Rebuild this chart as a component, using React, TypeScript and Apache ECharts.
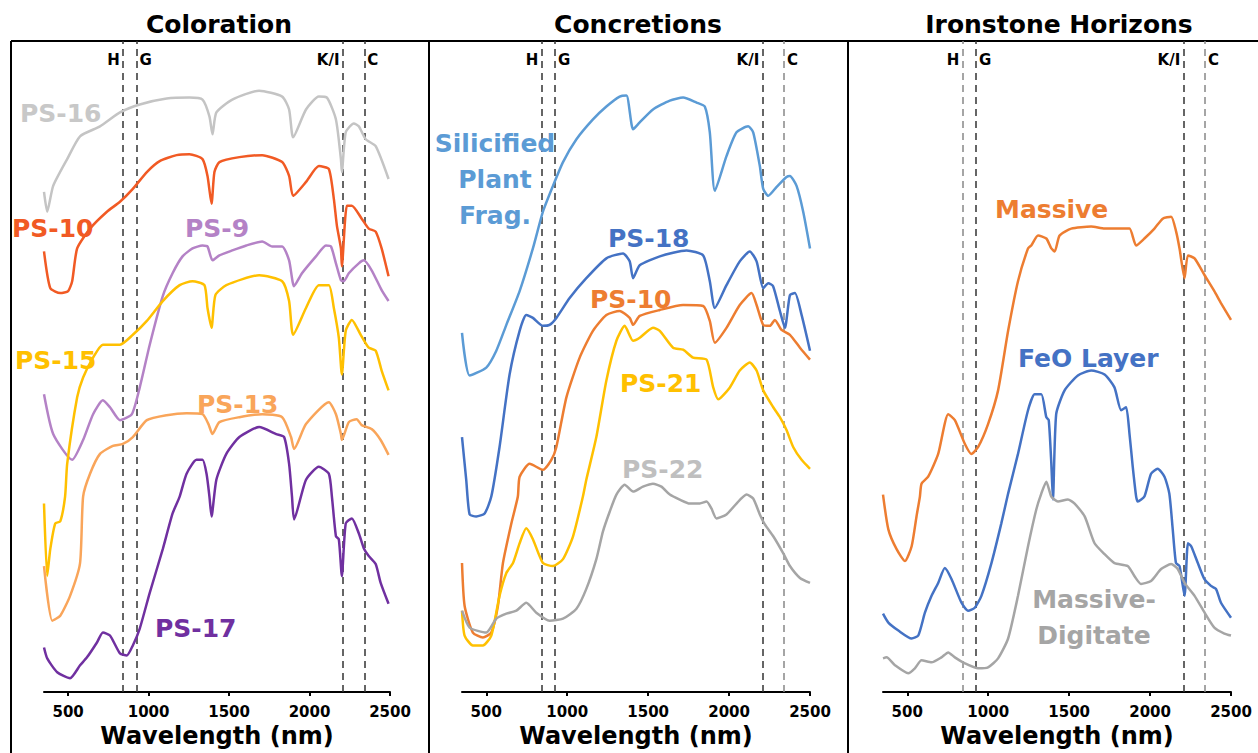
import React, { useEffect, useRef } from "react";
import * as echarts from "echarts";

// ---------- axis / feature data ----------
const tickValues = [500, 1000, 1500, 2000, 2500];
const featureNm = [840, 925, 2205, 2340];
const featureLabels = ["H", "G", "K/I", "C"];
const panelTitles = ["Coloration", "Concretions", "Ironstone Horizons"];

// ---------- Coloration ----------
const ps16Wl = [350,370,407,494,574,698,822,945,1112,1254,1335,1378,1397,1421,1520,1687,1830,1873,1898,1978,2058,2108,2164,2195,2201,2225,2275,2306,2349,2411,2491];
const ps16Val = [50.4,48.4,51.0,53.7,56.0,57.0,58.4,59.2,59.8,59.9,59.7,58.0,56.2,58.4,59.7,60.6,60.0,58.7,55.9,58.7,60.0,59.9,57.7,53.7,52.4,56.4,57.3,57.0,55.7,55.0,51.7];

const ps10Wl = [350,389,451,500,525,556,636,741,822,902,989,1069,1174,1254,1335,1366,1391,1409,1440,1564,1706,1830,1873,1898,1978,2058,2120,2151,2170,2195,2201,2232,2263,2324,2368,2411,2448,2491];
const ps10Val = [44.4,40.7,40.2,40.4,41.4,44.7,46.7,48.4,49.4,50.7,52.4,53.5,54.1,54.2,53.7,52.0,49.2,52.4,53.4,53.9,54.1,53.4,52.0,50.0,51.4,53.0,52.7,49.7,47.0,44.7,42.9,49.0,49.0,47.7,46.7,46.4,44.7,41.9];

const ps9Wl = [350,407,525,593,655,716,760,822,896,945,1007,1088,1149,1211,1273,1335,1366,1397,1440,1520,1607,1706,1768,1830,1873,1904,1953,2040,2102,2133,2164,2195,2213,2244,2306,2337,2386,2448,2491];
const ps9Val = [30.0,26.0,23.4,25.4,28.0,29.4,28.7,27.4,28.0,30.7,35.0,39.9,42.2,43.9,44.7,45.0,44.9,43.5,44.0,44.5,45.0,45.4,44.9,44.9,43.5,40.9,42.2,43.9,45.0,44.9,43.2,41.5,41.4,42.2,43.2,43.5,42.5,40.5,39.4];

const ps15Wl = [350,370,389,420,451,481,494,556,593,655,716,822,902,989,1088,1193,1273,1347,1366,1391,1415,1483,1687,1830,1873,1898,1978,2058,2120,2151,2182,2201,2225,2263,2318,2368,2411,2448,2491];
const ps15Val = [19.0,11.7,14.4,17.0,17.2,19.7,23.0,29.7,31.7,33.7,35.0,35.0,36.0,37.4,39.4,41.0,41.4,41.0,38.7,36.7,40.0,41.0,42.0,41.4,39.4,36.0,38.7,41.0,41.0,38.7,35.7,32.0,36.4,37.5,36.0,34.7,34.4,32.4,30.4];

const ps13Wl = [350,401,451,512,574,593,636,698,778,840,902,989,1112,1236,1335,1372,1397,1440,1564,1706,1830,1885,1904,1978,2120,2164,2195,2201,2244,2293,2324,2386,2442,2491];
const ps13Val = [12.7,7.2,7.7,9.7,13.0,19.7,22.0,24.0,24.8,25.0,25.7,27.4,27.9,28.1,28.0,27.0,26.0,27.2,27.7,28.0,27.7,25.7,24.5,27.0,29.2,28.0,26.0,25.4,27.2,27.5,26.9,26.5,25.4,23.9];

const ps17Wl = [350,370,432,512,574,617,679,716,760,822,865,902,945,1007,1088,1149,1193,1236,1298,1335,1360,1378,1391,1421,1483,1564,1687,1793,1842,1873,1891,1904,1978,2058,2120,2139,2164,2182,2201,2225,2263,2306,2337,2368,2411,2442,2491];
const ps17Val = [4.5,3.4,2.0,1.4,2.7,3.5,5.0,6.0,5.7,3.9,3.7,4.7,6.4,10.0,14.4,18.0,19.7,22.0,23.4,23.4,22.0,19.7,17.7,21.4,24.0,25.7,26.7,26.0,25.7,23.0,19.7,17.4,21.4,22.7,22.0,19.7,15.7,15.4,11.7,17.0,17.5,16.0,14.5,13.7,12.9,11.0,8.9];

// ---------- Concretions ----------
const silWl = [350,397,500,562,624,706,788,850,912,974,1057,1159,1242,1324,1366,1407,1448,1530,1634,1716,1799,1850,1881,1912,1984,2046,2118,2149,2190,2211,2242,2294,2355,2376,2417,2458,2500];
const silVal = [36.2,31.9,32.7,34.4,37.0,40.4,44.7,48.4,51.0,53.4,55.7,57.7,59.0,60.0,60.1,56.7,57.4,58.7,59.6,59.9,59.4,59.0,56.4,50.5,54.0,56.4,57.0,56.4,53.0,50.7,50.0,50.9,51.9,52.0,51.0,48.4,44.7];

const ps18Wl = [350,376,397,438,490,531,582,644,706,747,788,850,891,933,1015,1118,1242,1345,1386,1407,1448,1572,1737,1840,1881,1912,1984,2066,2128,2170,2211,2242,2272,2314,2345,2376,2407,2448,2500];
const ps18Val = [25.7,21.4,17.9,17.7,18.0,19.7,24.7,32.0,36.4,38.0,37.7,36.9,37.0,37.7,39.7,41.7,43.7,44.2,43.4,41.7,43.0,43.9,44.5,44.0,41.4,38.7,41.0,43.4,44.4,43.4,40.7,41.2,40.9,38.4,36.7,40.0,40.2,38.0,34.4];

const ps10cWl = [350,366,417,479,531,572,603,655,695,706,768,850,902,933,995,1077,1159,1242,1324,1386,1407,1448,1572,1716,1840,1881,1912,1984,2066,2139,2170,2211,2252,2283,2324,2376,2438,2500];
const ps10cVal = [13.0,8.7,6.0,5.5,6.0,8.7,13.0,17.0,19.7,21.7,23.0,22.4,23.4,24.7,29.7,33.7,36.4,38.0,38.4,37.7,37.0,37.9,38.5,39.0,38.9,37.4,35.2,36.7,39.0,40.2,39.0,37.0,36.9,37.5,36.5,36.0,34.7,33.5];

const ps21Wl = [350,366,417,479,531,582,624,665,706,747,788,850,912,974,1036,1097,1118,1180,1242,1304,1355,1407,1448,1530,1572,1654,1716,1778,1861,1902,1933,2005,2066,2128,2170,2211,2273,2314,2355,2396,2448,2500];
const ps21Val = [8.2,5.7,4.7,4.7,5.7,9.7,12.0,13.0,15.0,16.5,15.4,13.0,12.7,13.4,15.7,19.7,21.4,25.7,31.4,35.4,36.9,35.4,35.7,36.7,36.4,34.7,34.5,33.7,33.5,30.7,29.5,30.7,32.4,33.2,32.4,30.4,28.7,27.7,26.4,24.7,23.4,22.5];

const ps22Wl = [350,397,500,562,624,686,747,809,891,974,1057,1118,1180,1221,1263,1304,1355,1407,1468,1530,1582,1634,1695,1757,1819,1861,1891,1922,1984,2046,2108,2149,2190,2221,2273,2334,2376,2438,2500];
const ps22Val = [8.2,6.5,6.0,7.4,7.9,8.2,9.0,8.0,7.2,7.4,8.4,10.4,13.4,16.2,18.2,19.9,20.9,20.2,20.7,21.0,20.7,19.9,19.4,19.0,19.0,19.2,18.5,17.5,17.9,19.0,19.9,19.5,17.9,16.9,15.7,14.0,12.7,11.5,11.0];

// ---------- Ironstone Horizons ----------
const massWl = [350,383,434,486,527,557,578,588,629,691,753,794,856,896,938,999,1061,1123,1184,1246,1266,1308,1359,1390,1411,1441,1513,1636,1719,1821,1873,1914,1965,2027,2078,2130,2161,2182,2213,2234,2275,2337,2397,2438,2500];
const massVal = [19.9,16.4,14.4,13.2,14.7,17.7,19.7,21.0,21.7,24.0,28.0,27.4,25.0,24.0,24.7,27.0,30.4,36.4,41.4,44.7,45.0,46.0,45.7,44.7,44.4,46.0,46.7,46.9,46.7,46.7,46.7,45.0,45.7,46.7,47.7,47.9,46.4,44.7,41.7,44.0,43.7,42.0,40.4,39.2,37.5];

const feoWl = [350,383,445,527,568,609,650,691,732,773,835,876,917,958,1020,1081,1123,1184,1246,1287,1328,1359,1374,1390,1400,1420,1472,1554,1636,1719,1780,1821,1852,1873,1893,1914,1924,1965,2006,2047,2089,2119,2140,2160,2182,2213,2234,2254,2295,2335,2376,2407,2438,2500];
const feoVal = [7.9,7.0,6.2,5.4,5.7,8.0,9.7,11.0,12.5,11.4,9.0,8.2,8.5,9.7,13.0,17.0,20.0,24.0,28.4,30.0,30.0,27.7,27.4,23.0,19.4,28.0,30.4,31.9,32.4,32.0,30.7,28.4,28.7,26.0,22.7,19.7,19.2,19.7,22.0,22.5,21.7,20.0,16.4,13.0,12.7,9.7,15.0,14.7,13.0,11.4,10.7,10.4,9.0,7.5];

const mdWl = [350,372,424,506,547,588,650,711,753,794,856,938,999,1061,1123,1184,1246,1297,1328,1359,1390,1431,1492,1534,1596,1657,1719,1780,1862,1903,1944,2006,2068,2130,2171,2213,2275,2337,2397,2459,2500];
const mdVal = [3.4,3.5,2.7,1.9,2.4,3.2,3.0,3.5,4.0,3.5,2.9,2.4,2.5,3.4,5.4,9.7,14.7,18.4,20.0,21.2,19.7,19.2,19.4,19.0,17.7,15.0,13.9,13.0,12.7,11.7,10.9,11.2,12.4,12.9,12.4,11.0,9.7,8.0,6.5,5.9,5.7];

// ---------- series definitions ----------
const seriesDefs = [
  { name: "PS-16", panel: 0, wl: ps16Wl, val: ps16Val, color: "#c4c4c4" },
  { name: "PS-10", panel: 0, wl: ps10Wl, val: ps10Val, color: "#f15a24" },
  { name: "PS-9", panel: 0, wl: ps9Wl, val: ps9Val, color: "#b482c6" },
  { name: "PS-15", panel: 0, wl: ps15Wl, val: ps15Val, color: "#ffc000" },
  { name: "PS-13", panel: 0, wl: ps13Wl, val: ps13Val, color: "#f9a55a" },
  { name: "PS-17", panel: 0, wl: ps17Wl, val: ps17Val, color: "#7030a0" },
  { name: "Silicified Plant Frag.", panel: 1, wl: silWl, val: silVal, color: "#5b9bd5" },
  { name: "PS-18", panel: 1, wl: ps18Wl, val: ps18Val, color: "#4472c4" },
  { name: "PS-10 ", panel: 1, wl: ps10cWl, val: ps10cVal, color: "#ed7d31" },
  { name: "PS-21", panel: 1, wl: ps21Wl, val: ps21Val, color: "#ffc000" },
  { name: "PS-22", panel: 1, wl: ps22Wl, val: ps22Val, color: "#a5a5a5" },
  { name: "Massive", panel: 2, wl: massWl, val: massVal, color: "#ed7d31" },
  { name: "FeO Layer", panel: 2, wl: feoWl, val: feoVal, color: "#4472c4" },
  { name: "Massive-Digitate", panel: 2, wl: mdWl, val: mdVal, color: "#a5a5a5" },
];

// on-chart series labels (text, pixel placement)
const seriesLabels = [
  { lines: ["PS-16"], x: 20, y: 113, align: "left", color: "#c8c8c8" },
  { lines: ["PS-10"], x: 12, y: 228, align: "left", color: "#f15a24" },
  { lines: ["PS-9"], x: 185, y: 228, align: "left", color: "#b482c6" },
  { lines: ["PS-15"], x: 15, y: 360, align: "left", color: "#ffc000" },
  { lines: ["PS-13"], x: 197, y: 404, align: "left", color: "#f9a55a" },
  { lines: ["PS-17"], x: 155, y: 628, align: "left", color: "#7030a0" },
  { lines: ["Silicified", "Plant", "Frag."], x: 495, y: 143, align: "center", color: "#5b9bd5" },
  { lines: ["PS-18"], x: 608, y: 238, align: "left", color: "#4472c4" },
  { lines: ["PS-10"], x: 590, y: 299, align: "left", color: "#ed7d31" },
  { lines: ["PS-21"], x: 620, y: 383, align: "left", color: "#ffc000" },
  { lines: ["PS-22"], x: 622, y: 469, align: "left", color: "#bfbfbf" },
  { lines: ["Massive"], x: 995, y: 209, align: "left", color: "#ed7d31" },
  { lines: ["FeO Layer"], x: 1018, y: 358, align: "left", color: "#4472c4" },
  { lines: ["Massive-", "Digitate"], x: 1094, y: 599, align: "center", color: "#a5a5a5" },
];

const FONT = "'DejaVu Sans', 'Liberation Sans', Arial, sans-serif";
const Y_MAX = 65.6;

const grids = [
  { left: 44, right: 868, top: 41, bottom: 56 },
  { left: 462, right: 448, top: 41, bottom: 56 },
  { left: 883, right: 27, top: 41, bottom: 56 },
];
const titleCenters = [219, 638, 1059];
const featureColors = [
  ["#333", "#333", "#333", "#333"],
  ["#333", "#333", "#333", "#888"],
  ["#888", "#333", "#333", "#888"],
];

export default function App() {
  const ref = useRef<HTMLDivElement>(null);

  useEffect(() => {
    if (!ref.current) return;
    const chart = echarts.init(ref.current, null, { renderer: "svg" });

    const xAxes = grids.map((_, i) => ({
      type: "value",
      gridIndex: i,
      min: 350,
      max: 2500,
      splitLine: { show: false },
      axisLine: { show: true, lineStyle: { color: "#000", width: 2 } },
      axisTick: { show: true, customValues: tickValues, length: 4, lineStyle: { color: "#000", width: 2 } },
      axisLabel: {
        customValues: tickValues,
        formatter: (v: number) => String(v),
        color: "#000",
        fontSize: 15,
        fontWeight: "bold",
        fontFamily: FONT,
        margin: 12,
      },
      name: "Wavelength (nm)",
      nameLocation: "middle",
      nameGap: 30,
      nameTextStyle: { color: "#000", fontSize: 24, fontWeight: "bold", fontFamily: FONT },
    }));
    const yAxes = grids.map((_, i) => ({
      type: "value",
      gridIndex: i,
      min: 0,
      max: Y_MAX,
      show: false,
    }));

    const firstOfPanel: Record<number, boolean> = {};
    const series: any[] = seriesDefs.map((s) => {
      const item: any = {
        type: "line",
        name: s.name,
        xAxisIndex: s.panel,
        yAxisIndex: s.panel,
        data: s.wl.map((w, k) => [w, s.val[k]]),
        showSymbol: false,
        smooth: 0.2,
        lineStyle: { color: s.color, width: 2.5 },
        itemStyle: { color: s.color },
        silent: true,
        z: 3,
      };
      if (!firstOfPanel[s.panel]) {
        firstOfPanel[s.panel] = true;
        item.markLine = {
          silent: true,
          symbol: ["none", "none"],
          label: { show: false },
          data: featureNm.map((nm, j) => [
            { coord: [nm, 0], lineStyle: { color: featureColors[s.panel][j], width: 1.5, type: [7, 5] } },
            { coord: [nm, Y_MAX] },
          ]),
          z: 1,
        };
      }
      return item;
    });

    chart.setOption({
      animation: false,
      backgroundColor: "#fff",
      grid: grids,
      xAxis: xAxes,
      yAxis: yAxes,
      series,
    });

    const graphics: any[] = [];
    // frame lines
    graphics.push({ type: "line", shape: { x1: 11, y1: 41, x2: 1258, y2: 41 }, style: { stroke: "#000", lineWidth: 2 } });
    [11, 429, 848].forEach((x) =>
      graphics.push({ type: "line", shape: { x1: x, y1: 41, x2: x, y2: 753 }, style: { stroke: "#000", lineWidth: 2 } })
    );
    // titles
    panelTitles.forEach((t, i) =>
      graphics.push({
        type: "text",
        x: titleCenters[i],
        y: 24,
        style: { text: t, fontSize: 25, fontWeight: "bold", fontFamily: FONT, fill: "#000", align: "center", verticalAlign: "middle" },
      })
    );
    // feature labels
    grids.forEach((_, i) => {
      featureNm.forEach((nm, j) => {
        const px = chart.convertToPixel({ xAxisIndex: i }, nm) as number;
        const right = j === 0 || j === 2;
        graphics.push({
          type: "text",
          x: right ? px - 3 : px + 3,
          y: 60,
          style: {
            text: featureLabels[j],
            fontSize: 15,
            fontWeight: "bold",
            fontFamily: FONT,
            fill: "#000",
            align: right ? "right" : "left",
            verticalAlign: "middle",
          },
        });
      });
    });
    // series labels
    seriesLabels.forEach((l) => {
      l.lines.forEach((line, k) => {
        graphics.push({
          type: "text",
          x: l.x,
          y: l.y + k * 36,
          style: {
            text: line,
            fontSize: 25,
            fontWeight: "bold",
            fontFamily: FONT,
            fill: l.color,
            align: l.align,
            verticalAlign: "middle",
          },
          z: 10,
        });
      });
    });

    chart.setOption({ graphic: graphics });

    return () => chart.dispose();
  }, []);

  return <div ref={ref} style={{ position: "absolute", left: 0, top: 0, width: 1258, height: 753 }} />;
}
